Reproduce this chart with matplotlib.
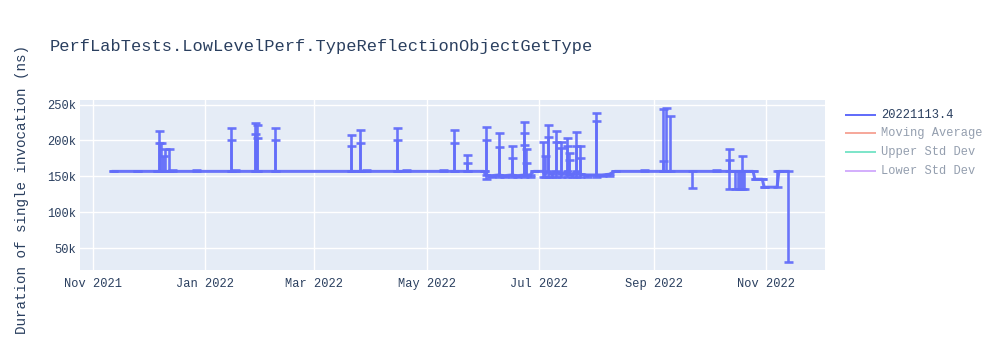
import numpy as np
import matplotlib
matplotlib.use("Agg")
import matplotlib.pyplot as plt
import matplotlib.dates as mdates
from matplotlib.lines import Line2D

# ---------------- data ----------------
title = "PerfLabTests.LowLevelPerf.TypeReflectionObjectGetType"
y_label = "Duration of single invocation (ns)"
legend_labels = ["20221113.4", "Moving Average", "Upper Std Dev", "Lower Std Dev"]

dates = [
    "2021-11-12", "2021-11-25", "2021-12-06", "2021-12-07", "2021-12-07", "2021-12-08",
    "2021-12-09", "2021-12-10", "2021-12-12", "2021-12-14", "2021-12-27", "2022-01-15",
    "2022-01-15", "2022-01-17", "2022-01-28", "2022-01-28", "2022-01-29", "2022-01-29",
    "2022-02-08", "2022-02-08", "2022-03-21", "2022-03-21", "2022-03-26", "2022-03-26",
    "2022-03-29", "2022-04-15", "2022-04-15", "2022-04-20", "2022-05-10", "2022-05-16",
    "2022-05-16", "2022-05-23", "2022-05-23", "2022-06-01", "2022-06-02", "2022-06-02",
    "2022-06-05", "2022-06-09", "2022-06-09", "2022-06-12", "2022-06-16", "2022-06-16",
    "2022-06-19", "2022-06-23", "2022-06-23", "2022-06-23", "2022-06-24", "2022-06-24",
    "2022-06-26", "2022-06-28", "2022-07-03", "2022-07-04", "2022-07-06", "2022-07-06",
    "2022-07-08", "2022-07-10", "2022-07-10", "2022-07-13", "2022-07-13", "2022-07-16",
    "2022-07-16", "2022-07-17", "2022-07-17", "2022-07-19", "2022-07-21", "2022-07-21",
    "2022-07-23", "2022-07-23", "2022-07-27", "2022-08-01", "2022-08-01", "2022-08-04",
    "2022-08-08", "2022-08-11", "2022-08-27", "2022-09-06", "2022-09-06", "2022-09-08",
    "2022-09-10", "2022-09-22", "2022-10-05", "2022-10-12", "2022-10-12", "2022-10-15",
    "2022-10-17", "2022-10-18", "2022-10-19", "2022-10-20", "2022-10-25", "2022-10-26",
    "2022-10-30", "2022-10-31", "2022-11-07", "2022-11-08", "2022-11-13",
]
values = [
    157000, 157000, 157000, 157000, 157000, 157000,
    157000, 157000, 157000, 157000, 157000, 157000,
    157000, 157000, 157000, 157000, 157000, 157000,
    157000, 157000, 157000, 157000, 157000, 157000,
    157000, 157000, 157000, 157000, 157000, 157000,
    157000, 157000, 157000, 157000, 152000, 152000,
    151000, 152000, 152000, 151000, 152000, 152000,
    151000, 152000, 152000, 152000, 152000, 152000,
    152000, 157000, 157000, 153000, 157000, 157000,
    153000, 157000, 157000, 153000, 153000, 157000,
    157000, 153000, 153000, 153000, 157000, 157000,
    153000, 153000, 152000, 152000, 152000, 152000,
    153000, 157000, 157000, 157000, 157000, 157000,
    157000, 157000, 157000, 157000, 157000, 157000,
    157000, 157000, 157000, 157000, 157000, 146000,
    146000, 135000, 135000, 157000, 157000,
]
lows = [
    157000, 157000, 157000, 157000, 157000, 157000,
    157000, 157000, 157000, 157000, 157000, 157000,
    157000, 157000, 157000, 157000, 157000, 157000,
    157000, 157000, 157000, 157000, 157000, 157000,
    157000, 157000, 157000, 157000, 157000, 157000,
    157000, 157000, 157000, 157000, 147000, 152000,
    148500, 149000, 152000, 148500, 149000, 152000,
    148500, 149000, 152000, 152000, 152000, 152000,
    149000, 157000, 149000, 149000, 149000, 157000,
    149000, 149000, 157000, 149000, 153000, 149000,
    157000, 153000, 153000, 149000, 149000, 157000,
    149000, 153000, 149500, 149000, 152000, 150000,
    151000, 157000, 157000, 157000, 157000, 157000,
    157000, 133800, 157000, 133000, 157000, 133000,
    133000, 133000, 133000, 133000, 157000, 146000,
    146000, 135000, 135000, 157000, 31400,
]
highs = [
    157000, 157000, 157000, 213000, 196600, 197000,
    179000, 188000, 188000, 158500, 158500, 200000,
    217000, 158500, 224000, 209000, 221000, 204000,
    217000, 200000, 207000, 193000, 215000, 197000,
    158500, 218000, 200000, 158500, 158500, 214000,
    196000, 180000, 168000, 157000, 218600, 201000,
    151000, 210000, 191000, 151000, 193000, 176000,
    151000, 225000, 211000, 194000, 188000, 168000,
    152000, 157000, 198000, 179000, 221000, 205000,
    153000, 213000, 198000, 198000, 189000, 204000,
    193000, 182000, 173000, 153000, 211600, 193000,
    193000, 176000, 152000, 238600, 227000, 152000,
    153000, 157000, 158500, 243700, 172000, 244700,
    234000, 157000, 158500, 188000, 172500, 157000,
    157000, 157000, 179000, 157000, 157000, 146000,
    146000, 135000, 157000, 157000, 157000,
]

x_tick_dates = ["2021-11-01", "2022-01-01", "2022-03-01", "2022-05-01",
                "2022-07-01", "2022-09-01", "2022-11-01"]
x_tick_labels = ["Nov 2021", "Jan 2022", "Mar 2022", "May 2022",
                 "Jul 2022", "Sep 2022", "Nov 2022"]
y_ticks = [50000, 100000, 150000, 200000, 250000]
y_tick_labels = ["50k", "100k", "150k", "200k", "250k"]
x_range = ["2021-10-25", "2022-12-03"]
y_range = [19800, 256300]

# ---------------- style ----------------
FONT = ["Liberation Mono", "DejaVu Sans Mono"]
TXT = "#2a3f5f"
BLUE = "#636efa"
legend_colors = [BLUE, "#EF553B", "#00cc96", "#ab63fa"]
PX = 72 / 100  # points per pixel at dpi 100

plt.rcParams["font.family"] = FONT

fig = plt.figure(figsize=(10, 3.5), dpi=100)
fig.patch.set_facecolor("white")
ax = fig.add_axes([0.08, 1 - 270 / 350, 0.745, 170 / 350])
ax.set_facecolor("#E5ECF6")
for s in ax.spines.values():
    s.set_visible(False)

x = np.array(dates, dtype="datetime64[D]")
v = np.array(values, dtype=float)
lo = np.array(lows, dtype=float)
hi = np.array(highs, dtype=float)
yerr = np.vstack([v - lo, hi - v])

ax.errorbar(x, v, yerr=yerr, color=BLUE, lw=3 * PX, elinewidth=2.6 * PX,
            capsize=4.5 * PX, capthick=2.6 * PX, alpha=0.95, zorder=3)

ax.set_xlim(np.datetime64(x_range[0]), np.datetime64(x_range[1]))
ax.set_ylim(*y_range)

xt = mdates.date2num(np.array(x_tick_dates, dtype="datetime64[D]"))
ax.set_xticks(xt)
ax.set_xticklabels(x_tick_labels)
ax.set_yticks(y_ticks)
ax.set_yticklabels(y_tick_labels)
ax.tick_params(axis="both", length=0, labelsize=12 * PX, labelcolor=TXT)
ax.tick_params(axis="x", pad=6)
ax.tick_params(axis="y", pad=3)
ax.grid(True, color="white", lw=1.4 * PX, zorder=0)
ax.set_axisbelow(True)

fig.text(50 / 1000, 1 - 46 / 350, title, fontsize=17 * PX, color=TXT,
         ha="left", va="center")
fig.text(22 / 1000, 1 - 190 / 350, y_label, fontsize=14.3 * PX, color=TXT,
         rotation=90, ha="center", va="center")

# legend (manual)
leg_y = [115, 133, 152, 171]
for i, (lab, col) in enumerate(zip(legend_labels, legend_colors)):
    yy = 1 - leg_y[i] / 350
    alpha = 1.0 if i == 0 else 0.5
    fig.add_artist(Line2D([846 / 1000, 875 / 1000], [yy, yy], color=col,
                          lw=2 * PX, alpha=alpha, transform=fig.transFigure))
    fig.text(881 / 1000, yy, lab, fontsize=12 * PX, color=TXT, alpha=alpha,
             ha="left", va="center")

fig.savefig("out.png", dpi=100)
